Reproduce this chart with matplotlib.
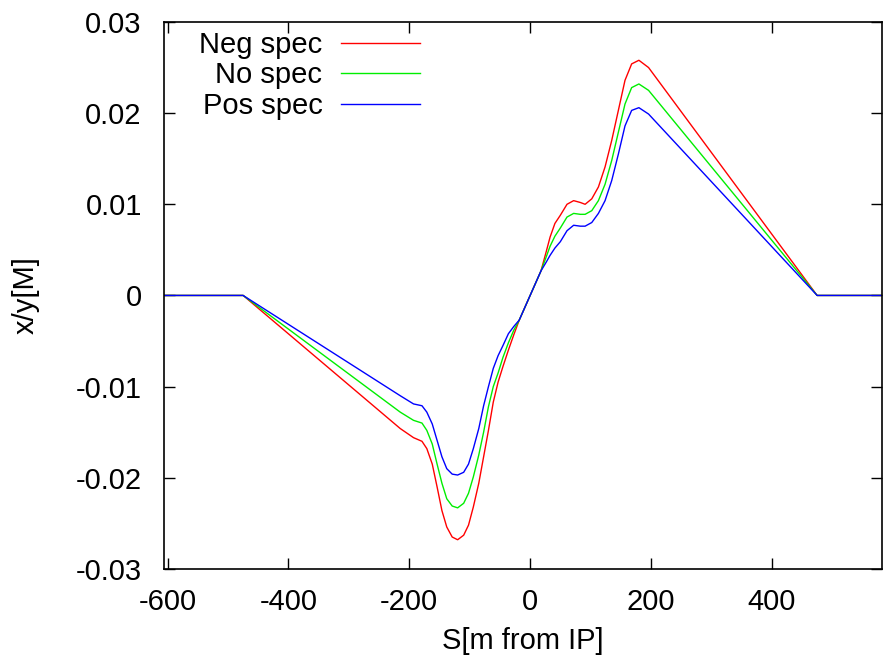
import matplotlib
matplotlib.use("Agg")
import matplotlib.pyplot as plt

plt.rcParams['font.family'] = ['Liberation Sans', 'DejaVu Sans']
plt.rcParams['axes.unicode_minus'] = False

# positions along the beam line [m from IP]
s = [-606, -475, -215, -193, -179, -171, -162, -154, -146, -138, -129, -120,
     -110, -102, -94, -85, -77, -69, -61, -53, -45, -36, -27, -18, 0,
     18, 27, 33, 41, 50, 61, 72, 83, 91, 102, 113, 124, 135, 146, 157, 168,
     180, 196, 475, 606]

neg_spec = [0, 0, -0.0146, -0.0156, -0.0160, -0.0168, -0.0185, -0.0210, -0.0236,
            -0.0254, -0.0265, -0.0268, -0.0263, -0.0252, -0.0232, -0.0206, -0.0177,
            -0.0148, -0.0117, -0.0095, -0.0078, -0.0060, -0.0043, -0.0027, 0.0,
            0.0027, 0.0049, 0.0064, 0.0079, 0.0088, 0.0100, 0.0104, 0.0102, 0.0100,
            0.0106, 0.0119, 0.0141, 0.0170, 0.0203, 0.0236, 0.0254, 0.0258, 0.0250,
            0, 0]
no_spec = [0, 0, -0.0128, -0.0137, -0.0140, -0.0148, -0.0163, -0.0185, -0.0206,
           -0.0223, -0.0231, -0.0233, -0.0228, -0.0217, -0.0199, -0.0175, -0.0150,
           -0.0122, -0.0100, -0.0085, -0.0068, -0.0052, -0.0038, -0.0027, 0.0,
           0.0027, 0.0043, 0.0054, 0.0065, 0.0074, 0.0086, 0.0090, 0.0089, 0.0089,
           0.0093, 0.0104, 0.0122, 0.0148, 0.0179, 0.0210, 0.0228, 0.0232, 0.0225,
           0, 0]
pos_spec = [0, 0, -0.0110, -0.0119, -0.0121, -0.0128, -0.0141, -0.0159, -0.0177,
            -0.0190, -0.0196, -0.0197, -0.0194, -0.0185, -0.0168, -0.0146, -0.0121,
            -0.0100, -0.0080, -0.0066, -0.0055, -0.0042, -0.0034, -0.0027, 0.0,
            0.0027, 0.0037, 0.0044, 0.0052, 0.0059, 0.0071, 0.0077, 0.0076, 0.0076,
            0.0080, 0.0090, 0.0104, 0.0126, 0.0155, 0.0186, 0.0203, 0.0206, 0.0199,
            0, 0]

fig = plt.figure(figsize=(8.84, 6.6), dpi=100)
ax = fig.add_axes([0.1855, 0.138, 0.812, 0.8287])

ax.plot(s, neg_spec, color='#ff0000', lw=1, label='Neg spec')
ax.plot(s, no_spec, color='#00ee00', lw=1, label='No spec')
ax.plot(s, pos_spec, color='#0000ff', lw=1, label='Pos spec')

ax.set_xlim(-606, 582)
ax.set_ylim(-0.03, 0.03)
ax.set_xticks([-600, -400, -200, 0, 200, 400])
ax.set_yticks([-0.03, -0.02, -0.01, 0, 0.01, 0.02, 0.03])
ax.set_yticklabels(['-0.03', '-0.02', '-0.01', '0', '0.01', '0.02', '0.03'])
ax.tick_params(direction='in', length=8, width=1, labelsize=21, top=True, right=True)
ax.tick_params(axis='x', pad=14)
ax.tick_params(axis='y', pad=16)
for sp in ax.spines.values():
    sp.set_linewidth(1.2)

ax.set_xlabel('S[m from IP]', fontsize=21, labelpad=8)
ax.set_ylabel('x/y[M]', fontsize=21, labelpad=26)

ax.legend(loc='upper left', bbox_to_anchor=(0.049, 0.984), frameon=False, markerfirst=False,
          fontsize=21, handlelength=2.7, labelspacing=0.09, handletextpad=0.65,
          borderaxespad=0, borderpad=0)

fig.savefig('out.png', dpi=100)
